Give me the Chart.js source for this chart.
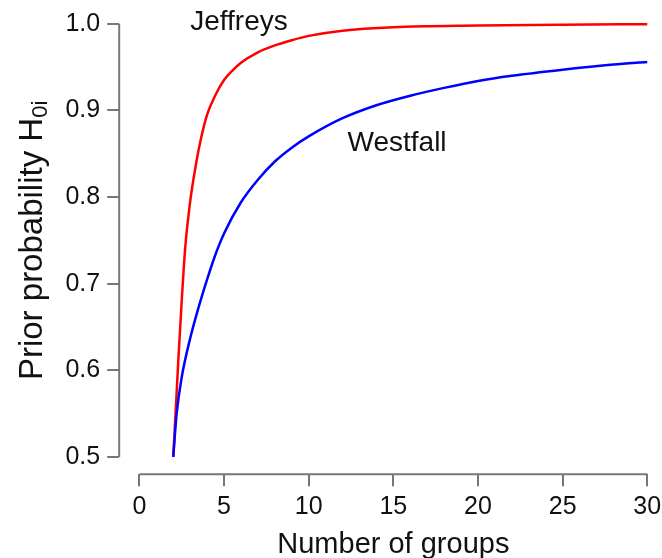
<!DOCTYPE html>
<html>
<head>
<meta charset="utf-8">
<script src="https://cdn.jsdelivr.net/npm/chart.js@4"></script>
<style>
  html, body { margin: 0; padding: 0; background: #fff; overflow: hidden; }
  canvas { display: block; }
</style>
</head>
<body>
<canvas id="chart" width="662" height="558"></canvas>
<script>
// values
const westfallGroups = [2, 2.2, 2.5, 3, 3.5, 4, 4.5, 5, 6, 7, 8, 9, 10, 12, 14, 16, 18, 20, 22, 25, 28, 30];
const westfallPrior  = [0.5, 0.55, 0.592, 0.637, 0.673, 0.705, 0.734, 0.758, 0.794, 0.82, 0.841, 0.857, 0.87,
                        0.891, 0.906, 0.917, 0.926, 0.934, 0.94, 0.947, 0.953, 0.956];

const jeffreysGroups = [2, 2.15, 2.3, 2.5, 2.7, 3, 3.3, 3.6, 4, 4.5, 5, 5.5, 6, 7, 8, 9, 10, 12, 15, 20, 25, 30];
const jeffreysPrior  = [0.5, 0.555, 0.612, 0.68, 0.74, 0.795, 0.833, 0.864, 0.895, 0.918, 0.935, 0.946, 0.955,
                        0.967, 0.975, 0.981, 0.986, 0.992, 0.996, 0.998, 0.999, 0.9995];

const xTicks = [0, 5, 10, 15, 20, 25, 30];
const yTicks = [0.5, 0.6, 0.7, 0.8, 0.9, 1.0];

// curve labels, placed in data coordinates
const curveLabels = [
  { text: 'Jeffreys', x: 5.88, y: 1.0015 },
  { text: 'Westfall', x: 15.22, y: 0.8615 },
];

const FONT = '"Liberation Sans", Arial, Helvetica, sans-serif';
const AXIS_COLOR = '#777';
const TEXT_COLOR = '#111';

const toPoints = (xs, ys) => xs.map((x, i) => ({ x, y: ys[i] }));

// R style axes: the line only runs from first to last tick, plus titles and labels
const decorations = {
  id: 'decorations',
  afterDraw(chart) {
    const { ctx, chartArea, scales: { x, y } } = chart;
    ctx.save();
    ctx.strokeStyle = AXIS_COLOR;
    ctx.lineWidth = 2;
    ctx.beginPath();
    ctx.moveTo(x.getPixelForValue(xTicks[0]), chartArea.bottom);
    ctx.lineTo(x.getPixelForValue(xTicks[xTicks.length - 1]), chartArea.bottom);
    ctx.moveTo(chartArea.left, y.getPixelForValue(yTicks[0]));
    ctx.lineTo(chartArea.left, y.getPixelForValue(yTicks[yTicks.length - 1]));
    ctx.stroke();

    ctx.fillStyle = TEXT_COLOR;
    ctx.textAlign = 'center';
    ctx.textBaseline = 'middle';
    ctx.font = '28px ' + FONT;
    curveLabels.forEach(l => {
      ctx.fillText(l.text, x.getPixelForValue(l.x), y.getPixelForValue(l.y));
    });

    // x title
    ctx.font = '29px ' + FONT;
    ctx.textBaseline = 'alphabetic';
    ctx.fillText('Number of groups', (x.getPixelForValue(0) + x.getPixelForValue(30)) / 2, 553);

    // y title with subscript
    const main = 'Prior probability H';
    const sub = '0i';
    ctx.font = '33px ' + FONT;
    const wMain = ctx.measureText(main).width;
    ctx.font = '22px ' + FONT;
    const wSub = ctx.measureText(sub).width;
    const total = wMain + wSub;
    ctx.translate(42, y.getPixelForValue(0.75));
    ctx.rotate(-Math.PI / 2);
    ctx.textAlign = 'left';
    ctx.font = '33px ' + FONT;
    ctx.fillText(main, -total / 2, 0);
    ctx.font = '22px ' + FONT;
    ctx.fillText(sub, -total / 2 + wMain, 5);
    ctx.restore();
  }
};

const noEdgePadding = axis => {
  axis.paddingTop = 0;
  axis.paddingBottom = 0;
  axis.paddingLeft = 0;
  axis.paddingRight = 0;
};

new Chart(document.getElementById('chart'), {
  type: 'line',
  data: {
    datasets: [
      {
        label: 'Westfall',
        data: toPoints(westfallGroups, westfallPrior),
        borderColor: '#0000ff',
        borderWidth: 2.5,
        pointRadius: 0,
        cubicInterpolationMode: 'monotone',
        fill: false,
      },
      {
        label: 'Jeffreys',
        data: toPoints(jeffreysGroups, jeffreysPrior),
        borderColor: '#ff0000',
        borderWidth: 2.5,
        pointRadius: 0,
        cubicInterpolationMode: 'monotone',
        fill: false,
      },
    ],
  },
  options: {
    responsive: false,
    animation: false,
    layout: { padding: { top: 6.7, right: 0, bottom: 0, left: 0 } },
    plugins: { legend: { display: false }, tooltip: { enabled: false } },
    scales: {
      x: {
        type: 'linear',
        min: -1.193,
        max: 30.87,
        afterBuildTicks: axis => { axis.ticks = xTicks.map(v => ({ value: v })); },
        afterFit: axis => { axis.height = 83.7; noEdgePadding(axis); },
        border: { display: false },
        grid: { drawOnChartArea: false, drawTicks: true, tickLength: 12, color: AXIS_COLOR, lineWidth: 2 },
        ticks: {
          autoSkip: false, maxRotation: 0, padding: 6, color: TEXT_COLOR,
          font: { family: FONT, size: 25 },
          callback: v => String(v),
        },
      },
      y: {
        type: 'linear',
        min: 0.48,
        max: 1.0197,
        afterBuildTicks: axis => { axis.ticks = yTicks.map(v => ({ value: v })); },
        afterFit: axis => { axis.width = 119.2; noEdgePadding(axis); },
        border: { display: false },
        grid: { drawOnChartArea: false, drawTicks: true, tickLength: 12, color: AXIS_COLOR, lineWidth: 2 },
        ticks: {
          autoSkip: false, padding: 7, color: TEXT_COLOR,
          font: { family: FONT, size: 25 },
          callback: v => v.toFixed(1),
        },
      },
    },
  },
  plugins: [decorations],
});
</script>
</body>
</html>
